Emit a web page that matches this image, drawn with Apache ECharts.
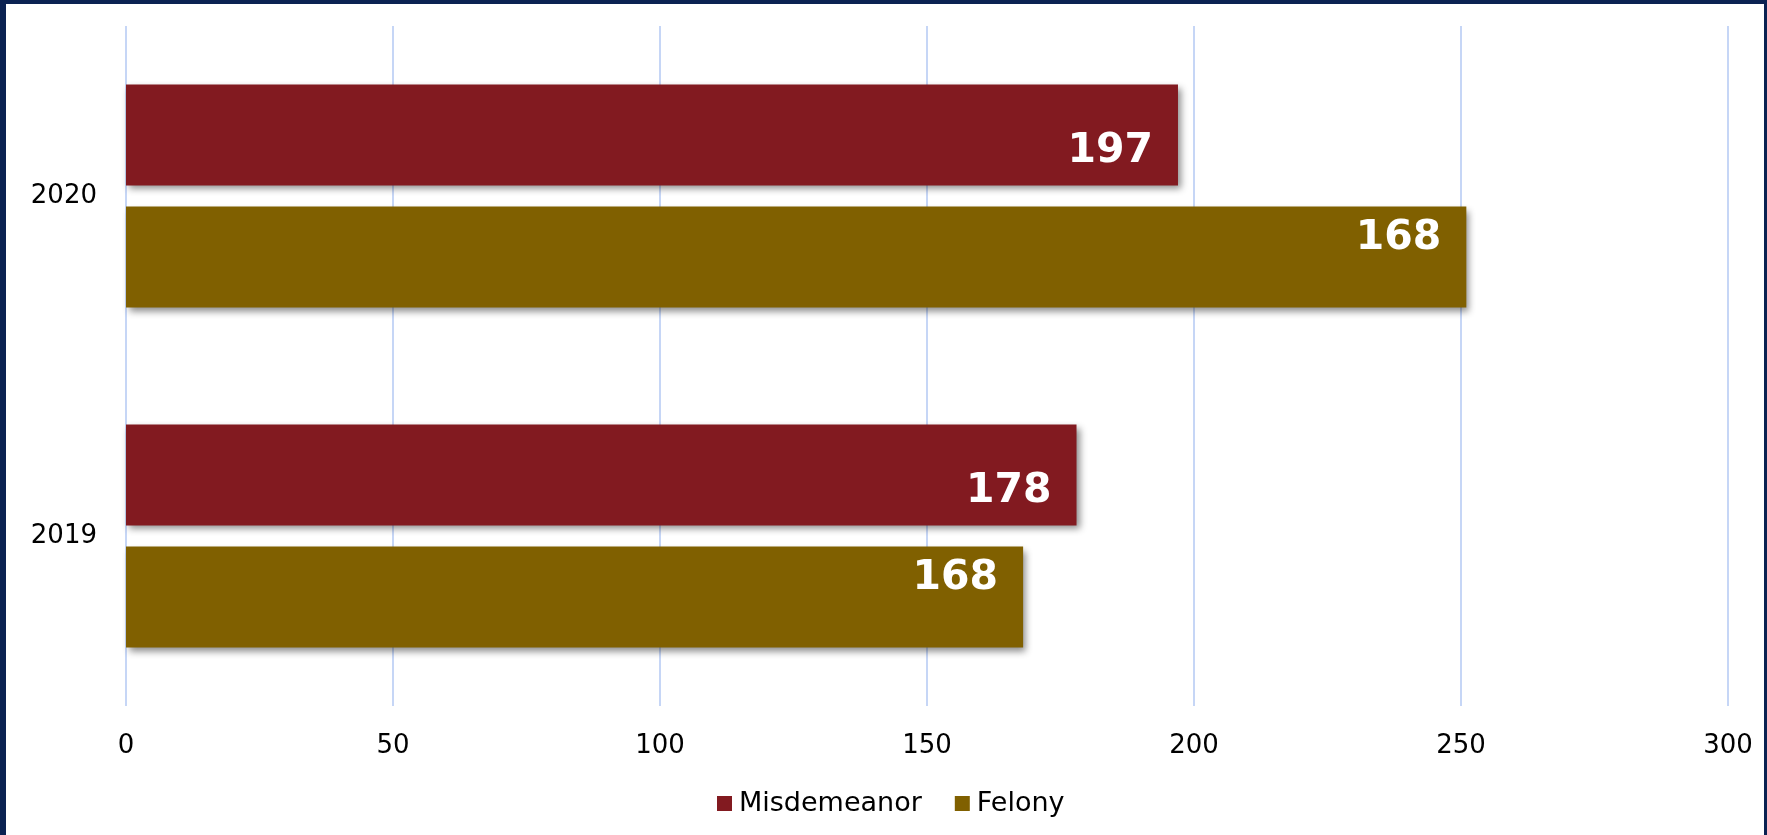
<!DOCTYPE html>
<html>
<head>
<meta charset="utf-8">
<script src="https://cdn.jsdelivr.net/npm/echarts@6/dist/echarts.min.js"></script>
<style>
  html, body { margin: 0; padding: 0; background: #ffffff; }
  #wrap { position: relative; width: 1767px; height: 835px; }
  #chart { position: absolute; left: 0; top: 0; width: 1767px; height: 835px; }
  #frame { position: absolute; left: 0; top: 0; width: 1767px; height: 835px; box-sizing: border-box;
           border-top: 4px solid #0b2252; border-left: 6px solid #0b2252; border-right: 3px solid #0b2252;
           pointer-events: none; }
</style>
</head>
<body>
<div id="wrap"><div id="chart"></div><div id="frame"></div></div>
<script>
const categories = ['2019', '2020'];
const seriesNames = ['Misdemeanor', 'Felony'];
const misdemeanorValues = [178, 197];
const felonyValues = [168, 251];
const misdemeanorLabels = ['178', '197'];
const felonyLabels = ['168', '168'];
const xMin = 0, xMax = 300, xInterval = 50;

const colors = ['#821a20', '#806000'];

function barSeries(name, values, labels, color, dy) {
  return {
    name: name,
    type: 'bar',
    data: values,
    barWidth: 101,
    barGap: '21%',
    itemStyle: {
      color: color,
      shadowColor: 'rgba(0,0,0,0.45)',
      shadowBlur: 7,
      shadowOffsetX: 3,
      shadowOffsetY: 4
    },
    label: {
      show: true,
      position: 'insideRight',
      distance: 25,
      offset: [0, dy],
      color: '#ffffff',
      fontFamily: 'DejaVu Sans',
      fontWeight: 'bold',
      fontSize: 41,
      formatter: function (p) { return labels[p.dataIndex]; }
    }
  };
}

const chart = echarts.init(document.getElementById('chart'), null, { renderer: 'canvas' });
chart.setOption({
  animation: false,
  backgroundColor: '#ffffff',
  grid: { left: 126, right: 39, top: 26, bottom: 129, containLabel: false },
  legend: {
    data: seriesNames,
    left: 712,
    top: 785,
    icon: 'rect',
    itemWidth: 15,
    itemHeight: 15,
    itemGap: 33,
    textStyle: { fontFamily: 'DejaVu Sans', fontSize: 27, color: '#000000', padding: [0, 0, 0, 2] }
  },
  xAxis: {
    type: 'value',
    min: xMin,
    max: xMax,
    interval: xInterval,
    axisLine: { show: false },
    axisTick: { show: false },
    splitLine: { show: true, lineStyle: { color: '#c6d6f6', width: 2 } },
    axisLabel: { fontFamily: 'DejaVu Sans', fontSize: 26, color: '#000000', margin: 27 }
  },
  yAxis: {
    type: 'category',
    data: categories,
    axisLine: { show: false },
    axisTick: { show: false },
    splitLine: { show: false },
    axisLabel: { fontFamily: 'DejaVu Sans', fontSize: 26, color: '#000000', margin: 29 }
  },
  series: [
    barSeries(seriesNames[0], misdemeanorValues, misdemeanorLabels, colors[0], 16),
    barSeries(seriesNames[1], felonyValues, felonyLabels, colors[1], -19)
  ]
});
</script>
</body>
</html>
